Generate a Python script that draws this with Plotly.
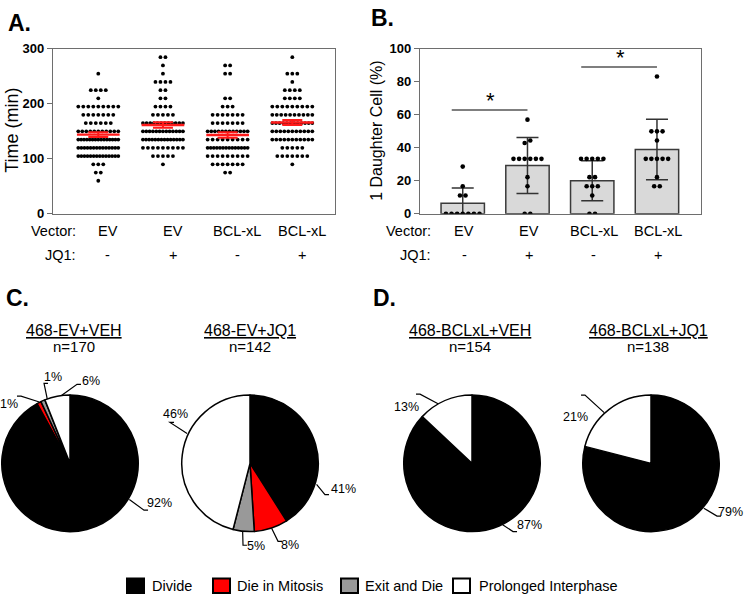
import numpy as np
import plotly.graph_objects as go

W, H = 745, 603
FONT = "Liberation Sans, Arial, sans-serif"

# ---------------- data ----------------
vector_labels = ["EV", "EV", "BCL-xL", "BCL-xL"]
jq1_labels = ["-", "+", "-", "+"]

# Panel A: number of cells at each mitosis duration (min)
time_levels = [60, 75, 90, 105, 120, 135, 150, 165, 180, 195, 210, 225, 240, 255, 270, 285]
a_ev_veh = [1, 2, 3, 14, 14, 15, 11, 6, 7, 9, 1, 4, 0, 1, 0, 0]
a_ev_jq1 = [0, 0, 1, 5, 9, 14, 13, 12, 5, 4, 2, 2, 4, 1, 1, 2]
a_bcl_veh = [0, 2, 7, 9, 14, 9, 12, 7, 7, 3, 2, 0, 0, 2, 2, 0]
a_bcl_jq1 = [0, 0, 1, 7, 5, 11, 11, 12, 10, 9, 4, 4, 1, 3, 0, 1]

# Panel B: % cells with 1 daughter cell (per field)
b_ev_veh = [0, 0, 0, 0, 0, 0, 0, 11.1, 11.1, 16.7, 28.6]
b_ev_jq1 = [0, 0, 16.7, 22.2, 33.3, 33.3, 33.3, 33.3, 33.3, 33.3, 42.9, 44.4, 57.1]
b_bcl_veh = [0, 0, 11.1, 16.7, 16.7, 16.7, 22.2, 22.2, 33.3, 33.3, 33.3, 33.3, 33.3]
b_bcl_jq1 = [16.7, 16.7, 22.2, 33.3, 33.3, 33.3, 33.3, 33.3, 44.4, 50, 50, 50, 83.3]
b_means = [6.3, 29.3, 20.0, 39.0]
b_sd = [9.3, 17.0, 12.1, 18.4]
sig_pairs = [(0, 1), (2, 3)]
sig_levels = [63, 89]

# Panels C/D: pies
outcomes = ["Divide", "Die in Mitosis", "Exit and Die", "Prolonged Interphase"]
pie_titles = ["468-EV+VEH", "468-EV+JQ1", "468-BCLxL+VEH", "468-BCLxL+JQ1"]
pie_n = [170, 142, 154, 138]
pie_ev_veh = [92, 1, 1, 6]
pie_ev_jq1 = [41, 8, 5, 46]
pie_bcl_veh = [87, 0, 0, 13]
pie_bcl_jq1 = [79, 0, 0, 21]

# ---------------- style / layout ----------------
outcome_colors = ["#000000", "#ff0000", "#999999", "#ffffff"]
A_BOX = (53, 335, 43, 212)   # x0, x1, ytop, ybottom (px)
B_BOX = (420, 701, 43, 212)
A_XR = [-0.7, 3.66]
B_XR = [-0.66, 3.68]
PIE_CENTERS = [(70, 468), (250, 468), (472, 468), (651, 468)]
PIE_R = 70
PIE_TITLE_X = [74, 250, 470, 648]
# per slice: rim angle (deg clockwise from 12h), elbow offset, text centre offset
LABEL_LAYOUT = [
    {0: (122, (74, 48), (89.5, 41)), 1: (334, (-49, -69), (-61, -61)),
     2: (341, (-26, -82), (-17, -89)), 3: (353, (7, -81), (21, -84))},
    {0: (108, (75, 32), (93.5, 26)), 1: (162, (28, 80), (40, 84)),
     2: (186, (-7, 84), (6, 85)), 3: (296, (-80, -42), (-75, -51))},
    {0: (154, (41, 70), (57.5, 63)), 3: (331, (-52, -71), (-65.5, -58))},
    {0: (131, (66, 54), (79.5, 50)), 3: (318, (-66, -70), (-75.5, -48))},
]
LEGEND_BOX_X = [127, 213, 341, 453]
LEGEND_TEXT_X = [150, 235, 363, 477]


def px(x):
    return x / W


def py(y):
    return 1 - y / H


def label(x, y, text, size, xanchor="center", xref="paper", **kw):
    d = dict(x=x, y=y, xref=xref, yref="paper", text=text, showarrow=False,
             xanchor=xanchor, yanchor="middle",
             font=dict(family=FONT, size=size, color="black"))
    d.update(kw)
    return d


fig = go.Figure()
annotations = []
shapes = []

# ---------------- Panel A ----------------
upx_a = (A_BOX[1] - A_BOX[0]) / (A_XR[1] - A_XR[0])
a_groups = [a_ev_veh, a_ev_jq1, a_bcl_veh, a_bcl_jq1]
for gi, counts in enumerate(a_groups):
    xs, ys = [], []
    for lvl, c in zip(time_levels, counts):
        if c == 0:
            continue
        step = min(5.0, 40.0 / (c - 1)) if c > 1 else 0.0
        offs = (np.arange(c) - (c - 1) / 2) * step / upx_a
        xs += list(gi + offs)
        ys += [lvl] * c
    fig.add_trace(go.Scatter(x=xs, y=ys, mode="markers", xaxis="x", yaxis="y",
                             marker=dict(size=3.8, color="black"), showlegend=False,
                             hoverinfo="skip"))
for gi, counts in enumerate(a_groups):
    vals = np.repeat(time_levels, counts)
    m = vals.mean()
    sem = vals.std(ddof=1) / np.sqrt(len(vals))
    fig.add_trace(go.Scatter(x=[gi - 0.33, gi + 0.33], y=[m, m], mode="lines",
                             xaxis="x", yaxis="y", line=dict(color="#ff1a1a", width=2.4),
                             showlegend=False, hoverinfo="skip"))
    fig.add_trace(go.Scatter(x=[gi], y=[m], mode="markers", xaxis="x", yaxis="y",
                             marker=dict(size=1, color="rgba(0,0,0,0)"),
                             error_y=dict(type="data", array=[sem], width=10,
                                          thickness=2, color="#ff1a1a"),
                             showlegend=False, hoverinfo="skip"))

# ---------------- Panel B ----------------
fig.add_trace(go.Bar(x=[0, 1, 2, 3], y=b_means, width=0.67, xaxis="x2", yaxis="y2",
                     marker=dict(color="#d9d9d9", line=dict(color="#3a3a3a", width=1.5)),
                     error_y=dict(type="data", array=b_sd,
                                  arrayminus=[min(s, m) for s, m in zip(b_sd, b_means)],
                                  width=11, thickness=1.5, color="#333333"),
                     showlegend=False, hoverinfo="skip"))
upx_b = (B_BOX[1] - B_BOX[0]) / (B_XR[1] - B_XR[0])
for gi, vals in enumerate([b_ev_veh, b_ev_jq1, b_bcl_veh, b_bcl_jq1]):
    s = sorted(vals)
    groups = [[s[0]]]
    for v in s[1:]:
        if v - groups[-1][-1] <= 2.5:
            groups[-1].append(v)
        else:
            groups.append([v])
    xs, ys = [], []
    for g in groups:
        c = len(g)
        step = min(5.6, 40.0 / (c - 1)) if c > 1 else 0.0
        offs = (np.arange(c) - (c - 1) / 2) * step / upx_b
        xs += list(gi + offs)
        ys += g
    fig.add_trace(go.Scatter(x=xs, y=ys, mode="markers", xaxis="x2", yaxis="y2",
                             marker=dict(size=4.6, color="black"), showlegend=False,
                             hoverinfo="skip"))
for (i, j), lvl in zip(sig_pairs, sig_levels):
    fig.add_trace(go.Scatter(x=[i - 0.17, j], y=[lvl, lvl], mode="lines",
                             xaxis="x2", yaxis="y2", line=dict(color="#555555", width=1.5),
                             showlegend=False, hoverinfo="skip"))
    annotations.append(dict(x=(i - 0.17 + j) / 2 + 0.02, y=lvl, xref="x2", yref="y2",
                            text="*", showarrow=False, xanchor="center", yanchor="bottom",
                            yshift=-5, font=dict(family=FONT, size=22, color="black")))

# category labels under A and B
for xref, right_px, off in [("x", 78, 0.15), ("x2", 433, 0.02)]:
    annotations.append(label(px(right_px), py(230), "Vector:", 14.5, xanchor="right"))
    annotations.append(label(px(right_px), py(254), "JQ1:", 14.5, xanchor="right"))
    for gi, (v, j) in enumerate(zip(vector_labels, jq1_labels)):
        annotations.append(label(gi + off, py(230), v, 14.5, xref=xref))
        annotations.append(label(gi + off, py(254), j, 14.5, xref=xref))

annotations.append(label(px(12), py(127), "Time (min)", 18, textangle=-90))
annotations.append(label(px(377), py(127), "1 Daughter Cell (%)", 16, textangle=-90))

# panel letters
for letter, lx, ly in [("A.", 6, 16.5), ("B.", 369, 11.5), ("C.", 4, 298), ("D.", 371, 298)]:
    annotations.append(label(px(lx), py(ly), "<b>" + letter + "</b>", 23, xanchor="left"))

# ---------------- Pies ----------------
for pi, vals in enumerate([pie_ev_veh, pie_ev_jq1, pie_bcl_veh, pie_bcl_jq1]):
    cx, cy = PIE_CENTERS[pi]
    keep = [k for k, v in enumerate(vals) if v > 0]
    fig.add_trace(go.Pie(values=[vals[k] for k in keep], labels=[outcomes[k] for k in keep],
                         sort=False, direction="clockwise", rotation=0,
                         marker=dict(colors=[outcome_colors[k] for k in keep],
                                     line=dict(color="black", width=1.5)),
                         textinfo="none", hoverinfo="skip", showlegend=False,
                         domain=dict(x=[px(cx - PIE_R), px(cx + PIE_R)],
                                     y=[py(cy + PIE_R), py(cy - PIE_R)])))
    annotations.append(label(px(PIE_TITLE_X[pi]), py(332), "<u>" + pie_titles[pi] + "</u>", 16))
    annotations.append(label(px(PIE_TITLE_X[pi]), py(348), "n=%d" % pie_n[pi], 15))
    for k, (ang, (ex, ey), (tx, ty)) in LABEL_LAYOUT[pi].items():
        a = np.deg2rad(ang)
        rx, ry = cx + PIE_R * np.sin(a), cy - PIE_R * np.cos(a)
        exa, eya = cx + ex, cy + ey
        tka = exa + (4 if tx > ex else -4)
        path = "M %.4f,%.4f L %.4f,%.4f L %.4f,%.4f" % (px(rx), py(ry), px(exa), py(eya),
                                                       px(tka), py(eya))
        shapes.append(dict(type="path", path=path, xref="paper", yref="paper",
                           line=dict(color="black", width=1.2)))
        annotations.append(label(px(cx + tx), py(cy + ty), "%d%%" % vals[k], 12.5))

# ---------------- legend ----------------
for k, name in enumerate(outcomes):
    x0 = LEGEND_BOX_X[k]
    shapes.append(dict(type="rect", xref="paper", yref="paper",
                       x0=px(x0), x1=px(x0 + 17), y0=py(601), y1=py(586),
                       fillcolor=outcome_colors[k], line=dict(color="black", width=2)))
    annotations.append(label(px(LEGEND_TEXT_X[k]), py(594), name, 14.5, xanchor="left"))

axis_common = dict(showgrid=False, zeroline=False, showline=True, mirror=True,
                   linecolor="#6e6e6e", linewidth=1.2, fixedrange=True)
fig.update_layout(
    width=W, height=H, autosize=False,
    margin=dict(l=0, r=0, t=0, b=0),
    paper_bgcolor="white", plot_bgcolor="white",
    font=dict(family=FONT, color="black"),
    xaxis=dict(domain=[px(A_BOX[0]), px(A_BOX[1])], range=A_XR, showticklabels=False,
               ticks="", **axis_common),
    yaxis=dict(domain=[py(A_BOX[3]), py(A_BOX[2])], range=[0, 300],
               tickvals=[0, 100, 200, 300], ticks="outside", ticklen=5,
               tickcolor="#6e6e6e", tickwidth=1.2,
               tickfont=dict(family=FONT, size=13, color="black", weight="bold"),
               **axis_common),
    xaxis2=dict(domain=[px(B_BOX[0]), px(B_BOX[1])], range=B_XR, showticklabels=False,
                ticks="", anchor="y2", **axis_common),
    yaxis2=dict(domain=[py(B_BOX[3]), py(B_BOX[2])], range=[0, 100],
                tickvals=[0, 20, 40, 60, 80, 100], ticks="outside", ticklen=5,
                tickcolor="#6e6e6e", tickwidth=1.2, anchor="x2",
                tickfont=dict(family=FONT, size=13, color="black", weight="bold"),
                **axis_common),
    annotations=annotations,
    shapes=shapes,
    showlegend=False,
)

fig.write_html("out.html", config={"displayModeBar": False},
               post_script="document.body.style.margin='0';")
